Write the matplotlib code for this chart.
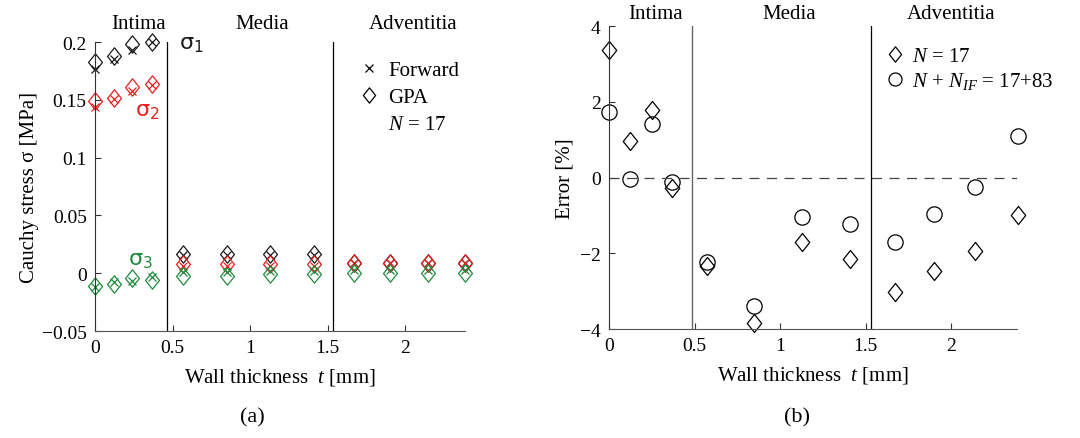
import matplotlib
matplotlib.use("Agg")
import matplotlib.pyplot as plt
from matplotlib.lines import Line2D
from matplotlib.path import Path

plt.rcParams["font.family"] = "Liberation Serif"
plt.rcParams["mathtext.fontset"] = "custom"
plt.rcParams["mathtext.rm"] = "Liberation Serif"
plt.rcParams["mathtext.it"] = "Liberation Serif:italic"
plt.rcParams["font.size"] = 14

# ---- data ----
t_a = [0.0, 0.12, 0.24, 0.37, 0.57, 0.85, 1.13, 1.41, 1.67, 1.90, 2.15, 2.39]
s1_gpa = [0.183, 0.188, 0.198, 0.200, 0.017, 0.017, 0.017, 0.017, 0.009, 0.009, 0.009, 0.009]
s1_fwd = [0.177, 0.185, 0.193, 0.200, 0.016, 0.016, 0.016, 0.016, 0.009, 0.009, 0.009, 0.009]
s2_gpa = [0.149, 0.152, 0.161, 0.164, 0.008, 0.008, 0.008, 0.008, 0.009, 0.009, 0.009, 0.009]
s2_fwd = [0.144, 0.151, 0.158, 0.163, 0.006, 0.006, 0.006, 0.006, 0.009, 0.009, 0.009, 0.009]
s3_gpa = [-0.011, -0.009, -0.004, -0.006, -0.002, -0.002, -0.001, -0.001, 0.000, 0.000, 0.000, 0.000]
s3_fwd = [-0.012, -0.008, -0.007, -0.003, 0.001, 0.001, 0.002, 0.002, 0.003, 0.003, 0.003, 0.003]

t_b = [0.0, 0.12, 0.25, 0.37, 0.57, 0.85, 1.13, 1.41, 1.67, 1.90, 2.14, 2.39]
err_n17 = [3.38, 0.97, 1.80, -0.28, -2.32, -3.85, -1.70, -2.15, -3.03, -2.46, -1.93, -0.99]
err_nif = [1.74, -0.04, 1.43, -0.11, -2.22, -3.38, -1.05, -1.23, -1.70, -0.97, -0.24, 1.10]

layers = ["Intima", "Media", "Adventitia"]
bounds_a = [0.467, 1.538]
bounds_b = [0.484, 1.533]

black = "#1a1a1a"
red = "#e8201f"
green = "#1f8a3c"

# matlab-like diamond, a bit taller than wide
diamond = Path([(0, 1), (0.8, 0), (0, -1), (-0.8, 0), (0, 1)],
               [Path.MOVETO, Path.LINETO, Path.LINETO, Path.LINETO, Path.CLOSEPOLY])

fig = plt.figure(figsize=(10.8, 4.39), dpi=100)
ax1 = fig.add_axes([0.088, 0.2437, 0.343, 0.658])
ax2 = fig.add_axes([0.564, 0.248, 0.378, 0.690])


def style_axes(ax):
    ax.spines["top"].set_visible(False)
    ax.spines["right"].set_visible(False)
    ax.spines["left"].set_color("#333333")
    ax.spines["bottom"].set_color("#555555")
    ax.tick_params(direction="in", length=4, width=0.8, color="#333333", labelsize=14, pad=6)


# ---- panel (a) ----
ms_a = 12.5
for sg, sf, c in [(s1_gpa, s1_fwd, black), (s2_gpa, s2_fwd, red), (s3_gpa, s3_fwd, green)]:
    ax1.plot(t_a, sf, linestyle="none", marker="x", color=c, markersize=6, markeredgewidth=0.9, clip_on=False)
    ax1.plot(t_a, sg, linestyle="none", marker=diamond, markerfacecolor="none", markeredgecolor=c,
             markersize=ms_a, markeredgewidth=0.9, clip_on=False)
for b in bounds_a:
    ax1.axvline(b, color="black", linewidth=0.9)
ax1.set_xlim(0, 2.39)
ax1.set_ylim(-0.05, 0.2)
ax1.set_xticks([0, 0.5, 1, 1.5, 2])
ax1.set_xticklabels(["0", "0.5", "1", "1.5", "2"])
ax1.set_yticks([-0.05, 0, 0.05, 0.1, 0.15, 0.2])
ax1.set_yticklabels(["\u22120.05", "0", "0.05", "0.1", "0.15", "0.2"])
style_axes(ax1)
ax1.set_xlabel("Wall thickness  $t$ [mm]", fontsize=15, labelpad=7)
ax1.set_ylabel("Cauchy stress σ [MPa]", fontsize=15, labelpad=2)

ax1.text(0.54, 0.195, r"$\mathrm{\sigma}_1$", color=black, fontsize=16, math_fontfamily="dejavusans")
ax1.text(0.26, 0.137, r"$\mathrm{\sigma}_2$", color=red, fontsize=16, math_fontfamily="dejavusans")
ax1.text(0.21, 0.008, r"$\mathrm{\sigma}_3$", color=green, fontsize=16, math_fontfamily="dejavusans")

for name, xc in zip(layers, [0.28, 1.08, 2.05]):
    ax1.text(xc, 1.03, name, transform=ax1.get_xaxis_transform(), ha="center", va="bottom", fontsize=15)

h_a = [Line2D([], [], linestyle="none", marker="x", color="black", markersize=6, markeredgewidth=0.9),
       Line2D([], [], linestyle="none", marker=diamond, markerfacecolor="none", markeredgecolor="black",
              markersize=11, markeredgewidth=0.9),
       Line2D([], [], linestyle="none")]
ax1.legend(h_a, ["Forward", "GPA", "$N$ = 17"], loc="upper left", bbox_to_anchor=(0.695, 0.965),
           frameon=False, fontsize=15, handlelength=0.8, handletextpad=0.5, labelspacing=0.35,
           borderaxespad=0)

fig.text(0.234, 0.048, "(a)", ha="center", va="center", fontsize=16)

# ---- panel (b) ----
ax2.plot(t_b, err_n17, linestyle="none", marker=diamond, markerfacecolor="none", markeredgecolor="black",
         markersize=13, markeredgewidth=0.9, clip_on=False, label="$N$ = 17")
ax2.plot(t_b, err_nif, linestyle="none", marker="o", markerfacecolor="none", markeredgecolor="black",
         markersize=11, markeredgewidth=0.9, clip_on=False, label="$N$ + $N_{IF}$ = 17+83")
ax2.axhline(0, color="#444444", linewidth=0.9, linestyle=(0, (8, 6)))
ax2.axvline(bounds_b[0], color="#666666", linewidth=1.0)
ax2.axvline(bounds_b[1], color="black", linewidth=0.9)
ax2.set_xlim(0, 2.387)
ax2.set_ylim(-4, 4)
ax2.set_xticks([0, 0.5, 1, 1.5, 2])
ax2.set_xticklabels(["0", "0.5", "1", "1.5", "2"])
ax2.set_yticks([-4, -2, 0, 2, 4])
ax2.set_yticklabels(["\u22124", "\u22122", "0", "2", "4"])
style_axes(ax2)
ax2.set_xlabel("Wall thickness  $t$ [mm]", fontsize=15, labelpad=7)
ax2.set_ylabel("Error [%]", fontsize=15, labelpad=4)

for name, xc in zip(layers, [0.27, 1.05, 2.0]):
    ax2.text(xc, 1.01, name, transform=ax2.get_xaxis_transform(), ha="center", va="bottom", fontsize=15)

ax2.legend(loc="upper left", bbox_to_anchor=(0.66, 0.96), frameon=False, fontsize=15,
           handlelength=0.8, handletextpad=0.4, labelspacing=0.2, borderaxespad=0, markerscale=0.85)

fig.text(0.738, 0.048, "(b)", ha="center", va="center", fontsize=16)

fig.savefig("out.png", dpi=100)
